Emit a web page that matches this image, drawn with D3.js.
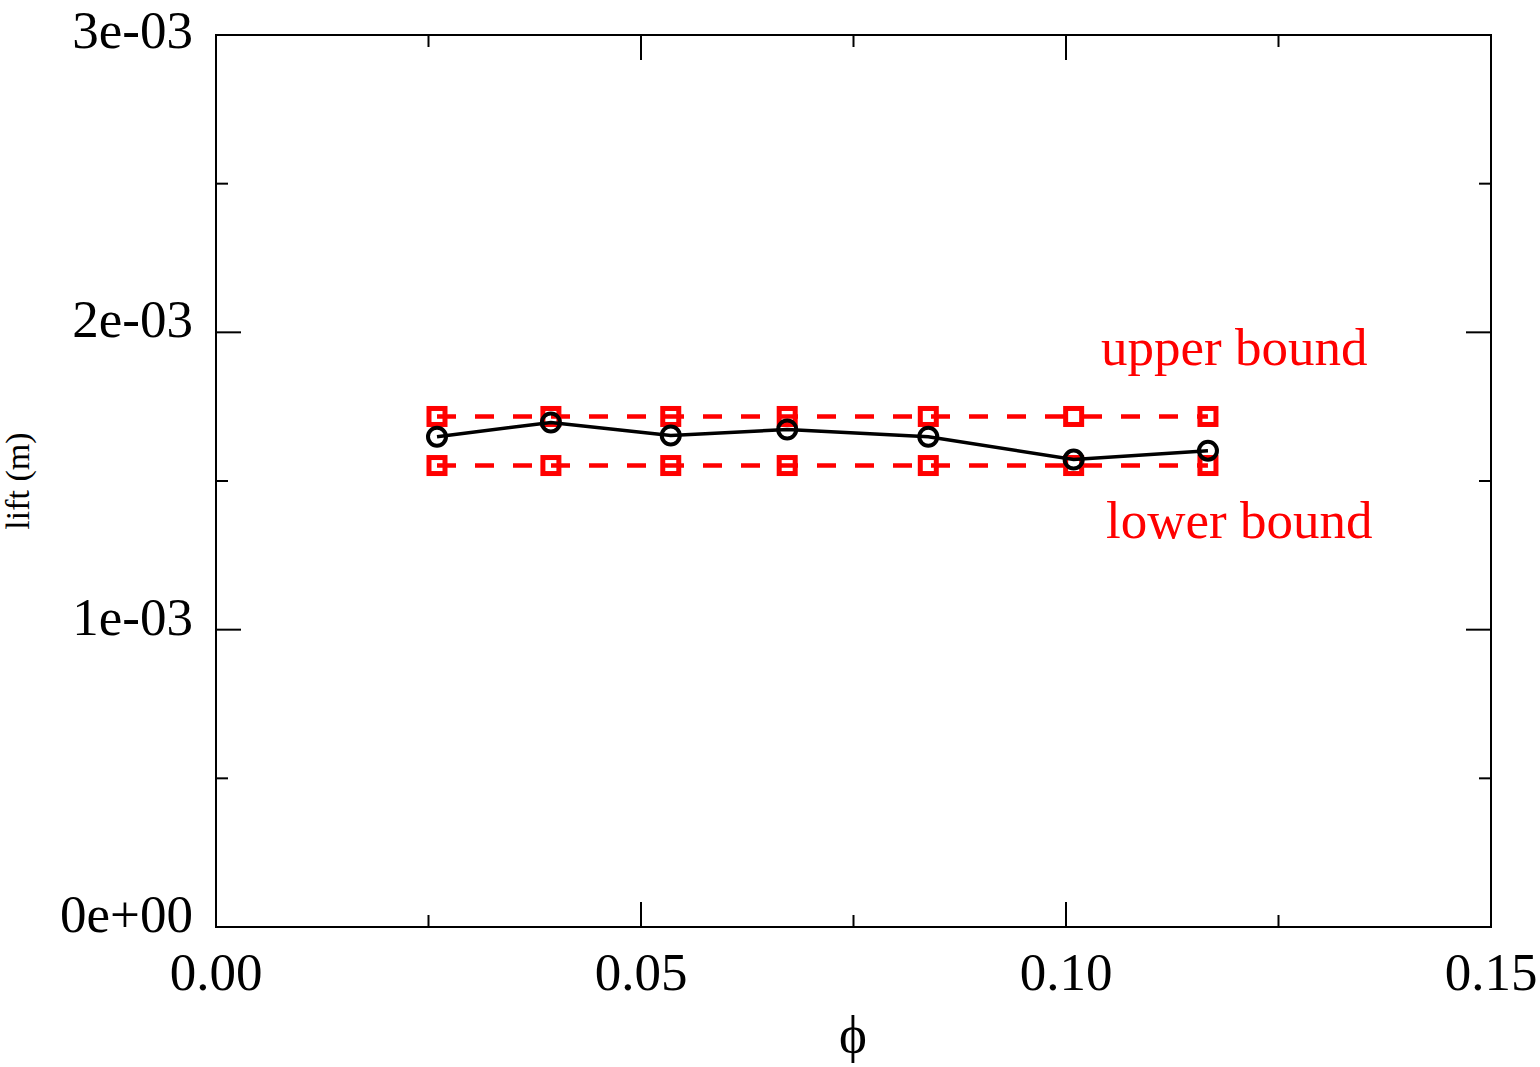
<!DOCTYPE html>
<html>
<head>
<meta charset="utf-8">
<script src="https://cdn.jsdelivr.net/npm/d3@7"></script>
<style>
  html, body { margin: 0; padding: 0; background: #fff; }
  svg { display: block; }
  text { font-family: "Liberation Serif", "Times New Roman", serif; }
</style>
</head>
<body>
<svg id="chart" width="1540" height="1067"></svg>
<script>
// ---- data ----
const phi = [0.0260, 0.0394, 0.0535, 0.0672, 0.0838, 0.1009, 0.1167];
const lift = [1.649e-3, 1.697e-3, 1.653e-3, 1.673e-3, 1.649e-3, 1.572e-3, 1.602e-3];
const upperBound = [1.717e-3, 1.717e-3, 1.717e-3, 1.717e-3, 1.717e-3, 1.717e-3, 1.717e-3];
const lowerBound = [1.552e-3, 1.552e-3, 1.552e-3, 1.552e-3, 1.552e-3, 1.552e-3, 1.552e-3];
const xMajorTicks = [0, 0.05, 0.10, 0.15];
const xMinorTicks = [0.025, 0.075, 0.125];
const xTickLabels = ["0.00", "0.05", "0.10", "0.15"];
const yMajorTicks = [0, 1e-3, 2e-3, 3e-3];
const yMinorTicks = [0.5e-3, 1.5e-3, 2.5e-3];
const yTickLabels = ["0e+00", "1e-03", "2e-03", "3e-03"];

// ---- layout ----
const svg = d3.select("#chart");
const L = 216, R = 1491, T = 35, B = 927;
const x = d3.scaleLinear().domain([0, 0.15]).range([L, R]);
const y = d3.scaleLinear().domain([0, 3e-3]).range([B, T]);

const g = svg.append("g");

// frame
g.append("rect").attr("x", L).attr("y", T).attr("width", R - L).attr("height", B - T)
  .attr("fill", "none").attr("stroke", "#000").attr("stroke-width", 2);

const majorLen = 25, minorLen = 12;
function xTicks(vals, len) {
  vals.forEach(v => {
    g.append("line").attr("x1", x(v)).attr("x2", x(v)).attr("y1", B).attr("y2", B - len)
      .attr("stroke", "#000").attr("stroke-width", 2);
    g.append("line").attr("x1", x(v)).attr("x2", x(v)).attr("y1", T).attr("y2", T + len)
      .attr("stroke", "#000").attr("stroke-width", 2);
  });
}
function yTicks(vals, len) {
  vals.forEach(v => {
    g.append("line").attr("x1", L).attr("x2", L + len).attr("y1", y(v)).attr("y2", y(v))
      .attr("stroke", "#000").attr("stroke-width", 2);
    g.append("line").attr("x1", R).attr("x2", R - len).attr("y1", y(v)).attr("y2", y(v))
      .attr("stroke", "#000").attr("stroke-width", 2);
  });
}
xTicks(xMajorTicks, majorLen);
xTicks(xMinorTicks, minorLen);
yTicks(yMajorTicks, majorLen);
yTicks(yMinorTicks, minorLen);

// tick labels
xMajorTicks.forEach((v, i) => {
  g.append("text").attr("x", x(v)).attr("y", 990).attr("text-anchor", "middle")
    .attr("font-size", 53).attr("fill", "#000").text(xTickLabels[i]);
});
yMajorTicks.forEach((v, i) => {
  g.append("text").attr("x", 193).attr("y", Math.max(y(v) + 5, 48)).attr("text-anchor", "end")
    .attr("font-size", 53).attr("fill", "#000").text(yTickLabels[i]);
});

// axis titles
g.append("text").attr("x", 853).attr("y", 1052).attr("text-anchor", "middle")
  .attr("font-size", 53).attr("fill", "#000").text("\u03D5");
g.append("text").attr("transform", "translate(29,481) rotate(-90)")
  .attr("text-anchor", "middle").attr("font-size", 34).attr("fill", "#000").text("lift (m)");

// bounds (dashed red with squares)
const line = d3.line().x(d => x(d[0])).y(d => y(d[1]));
[upperBound, lowerBound].forEach(arr => {
  const pts = phi.map((p, i) => [p, arr[i]]);
  g.append("path").attr("d", line(pts)).attr("fill", "none").attr("stroke", "#ff0000")
    .attr("stroke-width", 4.5).attr("stroke-dasharray", "19,19");
  pts.forEach(d => {
    g.append("rect").attr("x", x(d[0]) - 8).attr("y", y(d[1]) - 8).attr("width", 16).attr("height", 16)
      .attr("fill", "none").attr("stroke", "#ff0000").attr("stroke-width", 5);
  });
});

// measured lift (black with circles)
const lpts = phi.map((p, i) => [p, lift[i]]);
g.append("path").attr("d", line(lpts)).attr("fill", "none").attr("stroke", "#000").attr("stroke-width", 3.5);
lpts.forEach(d => {
  g.append("circle").attr("cx", x(d[0])).attr("cy", y(d[1])).attr("r", 9)
    .attr("fill", "none").attr("stroke", "#000").attr("stroke-width", 4);
});

// labels
g.append("text").attr("x", 1101).attr("y", 365).attr("font-size", 53).attr("fill", "#ff0000").text("upper bound");
g.append("text").attr("x", 1106).attr("y", 538).attr("font-size", 53).attr("fill", "#ff0000").text("lower bound");
</script>
</body>
</html>
